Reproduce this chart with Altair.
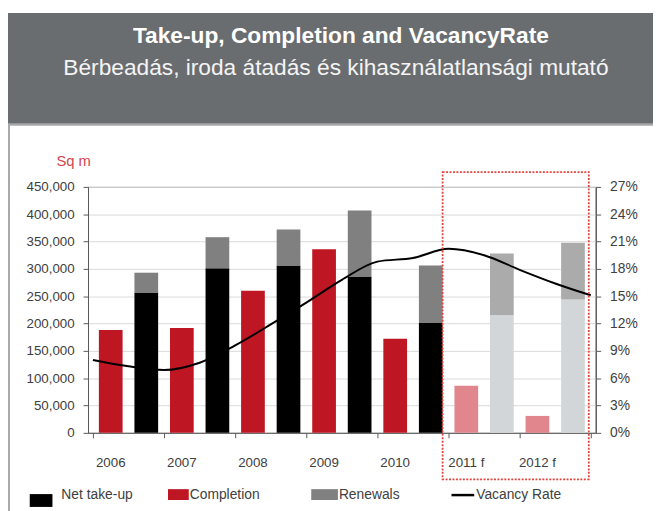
import altair as alt
import pandas as pd

# ---------------- data ----------------
years = ["2006", "2007", "2008", "2009", "2010", "2011 f", "2012 f"]
is_forecast = [False, False, False, False, False, True, True]
completion = [188000, 192000, 260000, 336000, 172000, 86000, 31000]
net_takeup = [257000, 301000, 306000, 286000, 201000, 215000, 244000]
renewals = [36000, 57000, 66000, 121000, 105000, 113000, 104000]

# vacancy rate sampled at the half-year boundaries of the category axis
vacancy_pos = list(range(15))
vacancy_rate = [0.080, 0.073, 0.069, 0.077, 0.096, 0.119, 0.143, 0.168,
                0.188, 0.192, 0.202, 0.195, 0.179, 0.164, 0.151]

series_names = ["Net take-up", "Completion", "Renewals",
                "Net take-up f", "Completion f", "Renewals f"]
series_colors = ["#000000", "#be1622", "#808080",
                 "#d3d6d8", "#e0868c", "#ababab"]

left_ticks = [0, 50000, 100000, 150000, 200000, 250000, 300000, 350000, 400000, 450000]
right_ticks = [0, 0.03, 0.06, 0.09, 0.12, 0.15, 0.18, 0.21, 0.24, 0.27]

title_text = "Take-up, Completion and VacancyRate"
subtitle_text = "Bérbeadás, iroda átadás és kihasználatlansági mutató"
unit_text = "Sq m"

legend_labels = ["Net take-up", "Completion", "Renewals", "Vacancy Rate"]
legend_colors = ["#000000", "#be1622", "#808080", "#000000"]

FONT = "Liberation Sans"
TXT = "#404040"
AX = "#595959"

# ---------------- tables ----------------
rows = []
for i, yr in enumerate(years):
    f = " f" if is_forecast[i] else ""
    rows.append(dict(pos=2 * i + 0.5, series="Completion" + f, lo=0, hi=completion[i]))
    rows.append(dict(pos=2 * i + 1.5, series="Net take-up" + f, lo=0, hi=net_takeup[i]))
    rows.append(dict(pos=2 * i + 1.5, series="Renewals" + f, lo=net_takeup[i],
                     hi=net_takeup[i] + renewals[i]))
bar_df = pd.DataFrame(rows)
vac_df = pd.DataFrame({"pos": vacancy_pos, "rate": vacancy_rate})
year_df = pd.DataFrame({"pos": [2 * i + 0.5 for i in range(len(years))], "year": years})
one = pd.DataFrame({"a": [0]})

xscale = alt.Scale(domain=[0, 14], nice=False, zero=False)

# ---------------- chart layers ----------------
bars = alt.Chart(bar_df).mark_bar(width=24).encode(
    x=alt.X("pos:Q", scale=xscale,
            axis=alt.Axis(title=None, values=list(range(15)), labels=False, grid=False,
                          tickSize=5, tickColor=AX, domainColor=AX)),
    y=alt.Y("lo:Q", scale=alt.Scale(domain=[0, 450000], nice=False),
            axis=alt.Axis(title=None, values=left_ticks, format=",.0f", grid=True,
                          gridColor="#d9d9d9", labelFontSize=13.5, labelColor=TXT,
                          labelPadding=9, tickSize=5, tickColor=AX,
                          domainColor=AX, labelFont=FONT)),
    y2="hi:Q",
    color=alt.Color("series:N", scale=alt.Scale(domain=series_names, range=series_colors),
                    legend=None),
)

year_labels = alt.Chart(year_df).mark_text(font=FONT, fontSize=13.5, color=TXT,
                                           baseline="middle").encode(
    x=alt.X("pos:Q", scale=xscale), y=alt.value(280), text="year:N")

line = alt.Chart(vac_df).mark_line(color="#000000", strokeWidth=2,
                                   interpolate="monotone").encode(
    x=alt.X("pos:Q", scale=xscale),
    y=alt.Y("rate:Q", scale=alt.Scale(domain=[0, 0.27], nice=False),
            axis=alt.Axis(title=None, orient="right", values=right_ticks, format=".0%",
                          grid=False, labelFontSize=14, labelColor=TXT, labelPadding=9,
                          tickSize=5, tickColor=AX, domainColor=AX, labelFont=FONT)),
)

header = alt.Chart(one).mark_rect(color="#6a6d70").encode(
    x=alt.value(-81), x2=alt.value(575), y=alt.value(-176), y2=alt.value(-64))
header_edge = alt.Chart(one).mark_rule(color="#a8a8a8", strokeWidth=2).encode(
    x=alt.value(-81), x2=alt.value(575), y=alt.value(-63))
left_border = alt.Chart(one).mark_rule(color="#a8a8a8", strokeWidth=2).encode(
    x=alt.value(-80), y=alt.value(-64), y2=alt.value(330))

title = alt.Chart(one).mark_text(font=FONT, fontSize=23, fontWeight="bold",
                                 color="#ffffff", align="center").encode(
    x=alt.value(256), y=alt.value(-153), text=alt.value(title_text))
subtitle = alt.Chart(one).mark_text(font=FONT, fontSize=23, color="#f4f4f4",
                                    align="center").encode(
    x=alt.value(251), y=alt.value(-120), text=alt.value(subtitle_text))
unit = alt.Chart(one).mark_text(font=FONT, fontSize=15, color="#d0454e",
                                align="left").encode(
    x=alt.value(-32), y=alt.value(-26), text=alt.value(unit_text))

forecast_box = alt.Chart(one).mark_rect(fillOpacity=0, stroke="#e2443f",
                                        strokeDash=[2, 1.5], strokeWidth=1.8).encode(
    x=alt.value(359), x2=alt.value(507), y=alt.value(-15), y2=alt.value(296))

# legend
leg = []
sq_pos = [(-59, -36, 311, 324), (81, 102, 306, 317), (226, 253, 306, 317)]
txt_x = [-27, 103, 254, 393]
for i in range(3):
    x0, x1, y0, y1 = sq_pos[i]
    leg.append(alt.Chart(one).mark_rect(color=legend_colors[i]).encode(
        x=alt.value(x0), x2=alt.value(x1), y=alt.value(y0), y2=alt.value(y1)))
leg.append(alt.Chart(one).mark_rule(color=legend_colors[3], strokeWidth=2.5).encode(
    x=alt.value(368), x2=alt.value(391), y=alt.value(312)))
for i in range(4):
    leg.append(alt.Chart(one).mark_text(font=FONT, fontSize=14, color=TXT, align="left",
                                        baseline="middle").encode(
        x=alt.value(txt_x[i]), y=alt.value(312), text=alt.value(legend_labels[i])))

main = alt.layer(bars, line).resolve_scale(y="independent")

chart = alt.layer(
    header, header_edge, left_border, title, subtitle, unit,
    main, year_labels, forecast_box, *leg
).properties(
    width=514, height=249,
    padding={"left": 81, "top": 178, "right": 58, "bottom": 76},
    autosize=alt.AutoSizeParams(type="none"),
    background="#ffffff",
).configure_view(
    stroke="#404040", strokeWidth=1
)

chart.save("out.html", embed_options={"renderer": "svg", "actions": False})
